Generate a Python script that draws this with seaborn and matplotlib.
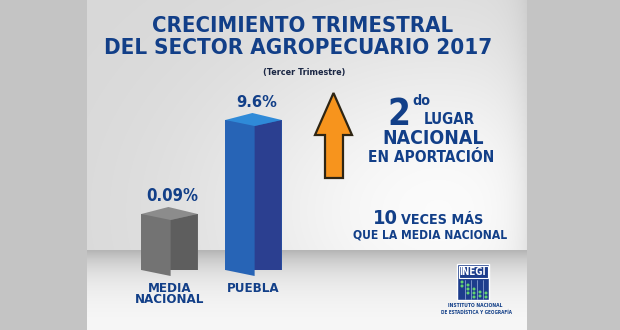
import numpy as np
import pandas as pd
import matplotlib
matplotlib.use("Agg")
import matplotlib.pyplot as plt
from matplotlib.patches import Polygon, Rectangle, Circle
from matplotlib.transforms import IdentityTransform
import seaborn as sns

# --- data -----------------------------------------------------------------
categories = ["MEDIA\nNACIONAL", "PUEBLA"]
growth_pct = [0.09, 9.6]
value_labels = ["0.09%", "9.6%"]

title_lines = ["CRECIMIENTO TRIMESTRAL", "DEL SECTOR AGROPECUARIO 2017"]
subtitle = "(Tercer Trimestre)"

# --- style ----------------------------------------------------------------
sns.set_theme(style="white")
plt.rcParams["font.family"] = ["DejaVu Sans"]
plt.rcParams["font.stretch"] = "condensed"
plt.rcParams["font.weight"] = "bold"

NAVY = "#123f88"
W, H = 620, 330
front_colors = ["#737373", "#2764b6"]
side_colors = ["#5e5e5e", "#2b3f90"]
top_colors = ["#8c8c8c", "#2f8ad8"]

fig = plt.figure(figsize=(W / 100, H / 100), dpi=100)
fitted = []  # (text, target width in px, max size in pt)


def label(axes, x, y, s, size, width, **kw):
    kw.setdefault("color", NAVY)
    t = axes.text(x, y, s, fontsize=size, fontweight="bold",
                  fontstretch="condensed", **kw)
    fitted.append((t, width, size))
    return t


# --- backdrop: grey side panels, lit wall and floor in the middle ----------
bg = fig.add_axes([0, 0, 1, 1], zorder=0)
yy, xx = np.mgrid[0:H, 0:W].astype(float)
wall = 0.845 + 0.14 * np.exp(-(((xx - 440) / 230) ** 2 + ((yy - 210) / 170) ** 2))
wall *= 1 - 0.07 * np.exp(-(526 - xx) / 14)
t = np.clip((yy - 250) / 70, 0, 1)
floor = 0.71 + 0.27 * (1 - np.exp(-3 * t))
img = np.where(yy < 250, wall, floor)
img = np.where((xx < 87) | (xx > 526), 0.77, img)
bg.imshow(np.dstack([img] * 3), extent=(0, W, H, 0), aspect="auto",
          interpolation="bilinear")
bg.set_xlim(0, W)
bg.set_ylim(H, 0)
bg.axis("off")

# title block
label(bg, 303, 32, title_lines[0], 19.5, 300, ha="center", va="baseline")
label(bg, 298, 54, title_lines[1], 19.5, 387, ha="center", va="baseline")
label(bg, 304, 74.5, subtitle, 8, 82, ha="center", va="baseline",
      color="#1b2744")

# orange arrow
arrow = Polygon([(325, 178), (343, 178), (343, 135), (352, 135),
                 (333.5, 93), (315, 135), (325, 135)],
                closed=True, facecolor="#f7941d", edgecolor="#2e2514", lw=1.6)
bg.add_patch(arrow)

# ranking text
label(bg, 399, 125, "2", 33, 23, ha="center", va="baseline")
label(bg, 412, 105, "do", 11.5, 18, ha="left", va="baseline")
label(bg, 449, 124, "LUGAR", 13, 51, ha="center", va="baseline")
label(bg, 433, 144.5, "NACIONAL", 15.5, 101, ha="center", va="baseline")
label(bg, 431, 161.5, "EN APORTACIÓN", 13, 126, ha="center", va="baseline")

label(bg, 373, 224.5, "10", 18, 25, ha="left", va="baseline")
label(bg, 401, 224.5, "VECES MÁS", 13, 82, ha="left", va="baseline")
label(bg, 430, 238, "QUE LA MEDIA NACIONAL", 12, 154, ha="center",
      va="baseline")

# INEGI emblem
bg.add_patch(Rectangle((457, 264), 32, 36, facecolor="#1d3d8c",
                       edgecolor="white", lw=1))
bg.add_patch(Rectangle((458.5, 265.5), 29, 12, facecolor="#1d3d8c",
                       edgecolor="white", lw=0.8))
label(bg, 473, 271.8, "INEGI", 8, 27, ha="center", va="center",
      color="white")
for vx in [465, 471, 477, 483]:
    bg.plot([vx, vx], [280, 299], color="#9db2e0", lw=0.5)
dots = [(462, 282), (462, 286), (468, 285), (468, 289), (468, 293),
        (474, 289), (474, 293), (474, 297), (480, 292), (480, 296),
        (486, 293), (486, 297)]
for dx, dy in dots:
    bg.add_patch(Circle((dx, dy), 1.5, facecolor="#62d56e", edgecolor="none"))
label(bg, 475, 305.5, "INSTITUTO NACIONAL", 5, 57, ha="center", va="center")
label(bg, 476.5, 312.5, "DE ESTADÍSTICA Y GEOGRAFÍA", 5, 73, ha="center",
      va="center")

# --- bars ------------------------------------------------------------------
ax_left, ax_bottom, ax_top = 127.5, 270, 60
ax = fig.add_axes([ax_left / W, (H - ax_bottom) / H, 168 / W,
                   (ax_bottom - ax_top) / H], zorder=1)
ax.patch.set_alpha(0)

df = pd.DataFrame({"region": categories, "growth": growth_pct})
sns.barplot(data=df, x="region", y="growth", hue="region",
            palette=front_colors, width=0.67, legend=False, ax=ax,
            saturation=1, edgecolor="none")
ax.set_yscale("log")
log_lo = -2.254
px_per_decade = 46.35
ax.set_ylim(10 ** log_lo, 10 ** (log_lo + (ax_bottom - ax_top) / px_per_decade))
ax.set_xlim(-0.5, 1.5)
ax.set_xlabel("")
ax.set_ylabel("")
ax.set_yticks([])
ax.minorticks_off()
ax.tick_params(axis="x", length=0, pad=8.5, labelsize=9.5, labelcolor=NAVY)
for lab in ax.get_xticklabels():
    lab.set_fontweight("bold")
    lab.set_fontstretch("condensed")
    lab.set_linespacing(0.85)
sns.despine(ax=ax, left=True, bottom=True)

# give each bar a visible side, top and perspective base
fig.canvas.draw()
ident = IdentityTransform()
split = 0.52
bars = sorted(ax.patches, key=lambda p: p.get_x())
value_widths = [52, 41]
for i, (bar, val, lab) in enumerate(zip(bars, growth_pct, value_labels)):
    x0 = bar.get_x()
    x1 = x0 + bar.get_width()
    xf = x0 + split * bar.get_width()
    (X0, Yt), = ax.transData.transform([(x0, val)])
    (X1, _), = ax.transData.transform([(x1, val)])
    (Xf, _), = ax.transData.transform([(xf, val)])
    Yb = ax.transAxes.transform((0, 0))[1]
    Xb = X0 + X1 - Xf
    dip, rise = 6, 7
    ax.add_patch(Polygon([(Xf, Yb - dip), (X1, Yb), (X1, Yt), (Xf, Yt - dip)],
                         transform=ident, facecolor=side_colors[i],
                         edgecolor="none", zorder=3))
    ax.add_patch(Polygon([(X0, Yb), (Xf, Yb - dip), (Xf, Yb)],
                         transform=ident, facecolor=front_colors[i],
                         edgecolor="none", zorder=3, clip_on=False))
    ax.add_patch(Polygon([(X0, Yt), (Xf, Yt - dip), (X1, Yt), (Xb, Yt + rise)],
                         transform=ident, facecolor=top_colors[i],
                         edgecolor="none", zorder=3))
    a = ax.annotate(lab, xy=(bar.get_x() + bar.get_width() / 2, val),
                    xytext=(2, 9.5), textcoords="offset points", ha="center",
                    va="baseline", fontsize=14.5, color=NAVY,
                    fontweight="bold", fontstretch="condensed",
                    annotation_clip=False)
    fitted.append((a, value_widths[i], 14.5))

# shrink any text that runs wider than its slot
renderer = fig.canvas.get_renderer()
for txt, width, size in fitted:
    w = txt.get_window_extent(renderer).width
    if w > width:
        txt.set_fontsize(size * width / w)

fig.savefig("out.png", dpi=100)
